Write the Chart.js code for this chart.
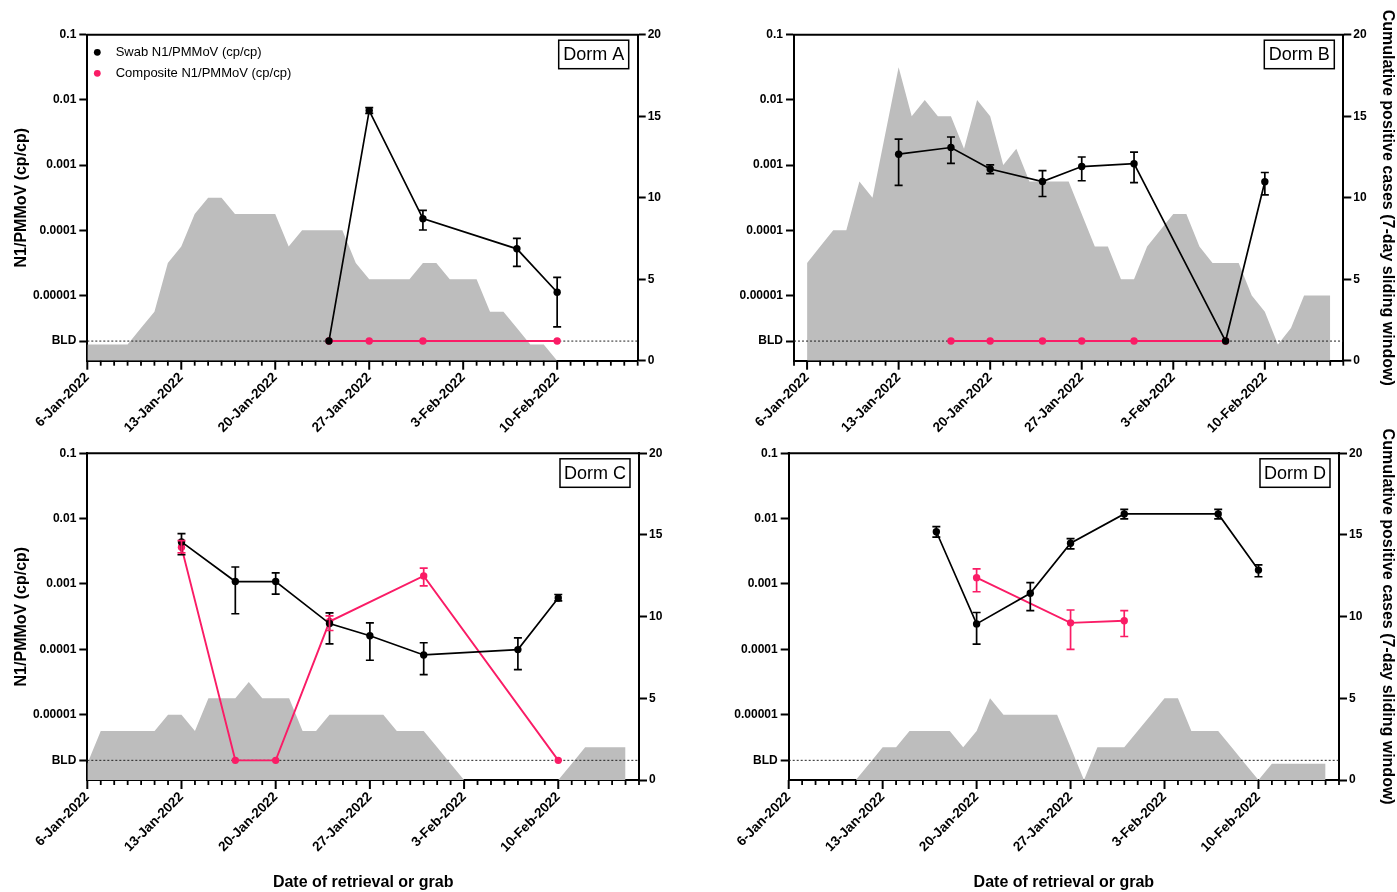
<!DOCTYPE html>
<html>
<head>
<meta charset="utf-8">
<script src="https://cdn.jsdelivr.net/npm/chart.js@4.4.1/dist/chart.umd.min.js"></script>
<style>
  body { margin: 0; background: #fff; width: 1397px; height: 892px; overflow: hidden; position: relative; }
  .panel { position: absolute; }
</style>
</head>
<body>
<div class="panel" style="left:0;top:0"><canvas id="dormA" width="698" height="440"></canvas></div>
<div class="panel" style="left:700px;top:0"><canvas id="dormB" width="697" height="440"></canvas></div>
<div class="panel" style="left:0;top:410px"><canvas id="dormC" width="698" height="482"></canvas></div>
<div class="panel" style="left:700px;top:410px"><canvas id="dormD" width="697" height="482"></canvas></div>
<script>
// below detection limit, plotted on its own row of the log axis
const BLD = 0.000002;

const leftTicks = [BLD, 0.00001, 0.0001, 0.001, 0.01, 0.1];
const leftTickLabels = ["BLD", "0.00001", "0.0001", "0.001", "0.01", "0.1"];
const months = ["Jan", "Feb", "Mar", "Apr", "May", "Jun", "Jul", "Aug", "Sep", "Oct", "Nov", "Dec"];

// cumulative positive cases, one value per day from the start date
const casesA_start = "2022-01-06";
const casesA = [1,1,1,1,2,3,6,7,9,10,10,9,9,9,9,7,8,8,8,8,6,5,5,5,5,6,6,5,5,5,3,3,2,1,1,0];
const casesB_start = "2022-01-06";
const casesB = [6,7,8,8,11,10,14,18,15,16,15,15,13,16,15,12,13,11,11,11,11,9,7,7,5,5,7,8,9,9,7,6,6,6,4,3,1,2,4,4,4];
const casesC_start = "2022-01-06";
const casesC = [1,3,3,3,3,3,4,4,3,5,5,5,6,5,5,5,3,3,4,4,4,4,4,3,3,3,2,1,0,0,0,0,0,0,0,0,1,2,2,2,2];
const casesD_start = "2022-01-11";
const casesD = [0,1,2,2,3,3,3,3,2,3,5,4,4,4,4,4,2,0,2,2,2,3,4,5,5,3,3,3,2,1,0,1,1,1,1,1];

// Dorm A
const swabA_dates = ["2022-01-24", "2022-01-27", "2022-01-31", "2022-02-07", "2022-02-10"];
const swabA = [BLD, 0.00685, 0.000151, 0.000052, 0.0000112];
const swabA_hi = [null, 0.0076, 0.000202, 0.000075, 0.000019];
const swabA_lo = [null, 0.0062, 0.000101, 0.000028, 0.0000033];
const compA_dates = ["2022-01-24", "2022-01-27", "2022-01-31", "2022-02-10"];
const compA = [BLD, BLD, BLD, BLD];

// Dorm B
const swabB_dates = ["2022-01-13", "2022-01-17", "2022-01-20", "2022-01-24", "2022-01-27", "2022-01-31", "2022-02-07", "2022-02-10"];
const swabB = [0.00147, 0.00186, 0.00087, 0.00056, 0.00095, 0.00105, BLD, 0.000555];
const swabB_hi = [0.0025, 0.0027, 0.00101, 0.00082, 0.00133, 0.00158, null, 0.00077];
const swabB_lo = [0.00049, 0.00106, 0.00074, 0.00033, 0.000575, 0.00054, null, 0.00035];
const compB_dates = ["2022-01-17", "2022-01-20", "2022-01-24", "2022-01-27", "2022-01-31", "2022-02-07"];
const compB = [BLD, BLD, BLD, BLD, BLD, BLD];

// Dorm C
const swabC_dates = ["2022-01-13", "2022-01-17", "2022-01-20", "2022-01-24", "2022-01-27", "2022-01-31", "2022-02-07", "2022-02-10"];
const swabC = [0.0044, 0.00109, 0.00109, 0.000248, 0.000161, 0.000082, 0.000099, 0.00061];
const swabC_hi = [0.0059, 0.00182, 0.00148, 0.00036, 0.000254, 0.000126, 0.00015, 0.00069];
const swabC_lo = [0.0028, 0.00035, 0.0007, 0.000121, 0.000068, 0.000041, 0.000049, 0.00055];
const compC_dates = ["2022-01-13", "2022-01-17", "2022-01-20", "2022-01-24", "2022-01-31", "2022-02-10"];
const compC = [0.00365, BLD, BLD, 0.000266, 0.00133, BLD];
const compC_hi = [0.0046, null, null, 0.000325, 0.00175, null];
const compC_lo = [0.003, null, null, 0.000194, 0.000935, null];

// Dorm D
const swabD_dates = ["2022-01-17", "2022-01-20", "2022-01-24", "2022-01-27", "2022-01-31", "2022-02-07", "2022-02-10"];
const swabD = [0.0063, 0.000245, 0.00072, 0.0042, 0.0118, 0.0118, 0.00163];
const swabD_hi = [0.00755, 0.000366, 0.00105, 0.00494, 0.0139, 0.0139, 0.00196];
const swabD_lo = [0.0052, 0.00012, 0.00039, 0.00344, 0.0099, 0.0099, 0.00129];
const compD_dates = ["2022-01-20", "2022-01-27", "2022-01-31"];
const compD = [0.00125, 0.000254, 0.000273];
const compD_hi = [0.0017, 0.0004, 0.00039];
const compD_lo = [0.00076, 0.0001, 0.000157];

const BLACK = "#000000";
const PINK = "#fa1c66";
const GREY = "#bdbdbd";
const FONT = "'Liberation Sans', Arial, Helvetica, sans-serif";

Chart.defaults.font.family = FONT;
Chart.defaults.color = "#000";

const day0 = Date.UTC(2022, 0, 6);
function dayOf(s) {
  const [y, m, d] = s.split("-").map(Number);
  return Math.round((Date.UTC(y, m - 1, d) - day0) / 86400000);
}
function dayLabel(n) {
  const d = new Date(day0 + n * 86400000);
  return d.getUTCDate() + "-" + months[d.getUTCMonth()] + "-" + d.getUTCFullYear();
}
function pts(dates, vals) {
  return dates.map((d, i) => ({ x: dayOf(d), y: vals[i] }));
}
function series(start, vals) {
  const s = dayOf(start);
  return vals.map((v, i) => ({ x: s + i, y: v }));
}

// error bars, frame, day ticks, dorm label, legend
const decor = {
  id: "decor",
  afterDatasetsDraw(chart) {
    const ctx = chart.ctx;
    const xs = chart.scales.x, ys = chart.scales.y;
    chart.data.datasets.forEach((ds) => {
      if (!ds.errHi) return;
      ctx.save();
      ctx.strokeStyle = ds.borderColor;
      ctx.lineWidth = 1.7;
      ds.data.forEach((p, i) => {
        if (ds.errHi[i] == null) return;
        const x = xs.getPixelForValue(p.x);
        const yh = ys.getPixelForValue(ds.errHi[i]);
        const yl = ys.getPixelForValue(ds.errLo[i]);
        ctx.beginPath();
        ctx.moveTo(x, yh); ctx.lineTo(x, yl);
        ctx.moveTo(x - 4, yh); ctx.lineTo(x + 4, yh);
        ctx.moveTo(x - 4, yl); ctx.lineTo(x + 4, yl);
        ctx.stroke();
      });
      ctx.restore();
    });
  },
  afterDraw(chart, args, opts) {
    const ctx = chart.ctx;
    const a = chart.chartArea;
    const xs = chart.scales.x;
    ctx.save();
    ctx.strokeStyle = "#000";
    // top frame line
    ctx.lineWidth = 2;
    ctx.beginPath();
    ctx.moveTo(a.left - 1, a.top); ctx.lineTo(a.right + 1, a.top);
    ctx.stroke();
    // daily ticks, longer at each week
    for (let v = Math.ceil(xs.min); v <= xs.max; v++) {
      const x = xs.getPixelForValue(v);
      const len = v % 7 === 0 ? 9 : 5;
      ctx.lineWidth = v % 7 === 0 ? 2 : 1.8;
      ctx.beginPath();
      ctx.moveTo(x, a.bottom); ctx.lineTo(x, a.bottom + len);
      ctx.stroke();
    }
    // dorm label box
    const bw = 70, bh = 28.5;
    const bx = a.right - 9 - bw, by = a.top + 5.5;
    ctx.lineWidth = 1.5;
    ctx.strokeRect(bx, by, bw, bh);
    ctx.fillStyle = "#000";
    ctx.font = "18px " + FONT;
    ctx.textAlign = "center";
    ctx.textBaseline = "middle";
    ctx.fillText(opts.name, bx + bw / 2, by + bh / 2 + 1);
    // legend
    if (opts.legend) {
      ctx.font = "13px " + FONT;
      ctx.textAlign = "left";
      opts.legend.forEach((item, i) => {
        const y = a.top + 17.6 + i * 21;
        ctx.fillStyle = item.color;
        ctx.beginPath();
        ctx.arc(a.left + 10, y, 3.4, 0, Math.PI * 2);
        ctx.fill();
        ctx.fillStyle = "#000";
        ctx.fillText(item.text, a.left + 28.4, y);
      });
    }
    ctx.restore();
  }
};

function makePanel(id, p) {
  const datasets = [
    {
      label: "Swab N1/PMMoV (cp/cp)",
      data: pts(p.swabDates, p.swab),
      errHi: p.swabHi, errLo: p.swabLo,
      borderColor: BLACK, backgroundColor: BLACK,
      borderWidth: 1.7, pointRadius: 3.7, pointBorderWidth: 0,
      yAxisID: "y", order: 0
    },
    {
      label: "Composite N1/PMMoV (cp/cp)",
      data: pts(p.compDates, p.comp),
      errHi: p.compHi, errLo: p.compLo,
      borderColor: PINK, backgroundColor: PINK,
      borderWidth: 1.9, pointRadius: 3.7, pointBorderWidth: 0,
      yAxisID: "y", order: 1
    },
    {
      label: "BLD",
      data: [{ x: p.xMin, y: BLD }, { x: p.xMax, y: BLD }],
      borderColor: "#222", borderWidth: 1, borderDash: [2, 2],
      pointRadius: 0, yAxisID: "y", order: 2
    },
    {
      label: "Cumulative positive cases",
      data: series(p.casesStart, p.cases),
      borderWidth: 0, borderColor: GREY, backgroundColor: GREY,
      fill: "origin", pointRadius: 0, tension: 0,
      yAxisID: "y2", order: 3
    }
  ];

  return new Chart(document.getElementById(id), {
    type: "line",
    data: { datasets: datasets },
    options: {
      responsive: false,
      animation: false,
      events: [],
      layout: { padding: { top: p.padTop, left: 0, right: 0, bottom: 0 } },
      plugins: {
        legend: { display: false },
        tooltip: { enabled: false },
        decor: { name: p.name, legend: p.legend }
      },
      scales: {
        x: {
          type: "linear",
          min: p.xMin,
          max: p.xMax,
          afterBuildTicks: (s) => {
            s.ticks = [];
            for (let v = p.xMin; v <= p.xMax; v++) s.ticks.push({ value: v });
          },
          afterFit: (s) => { s.height = p.bottomH; },
          ticks: {
            autoSkip: false,
            minRotation: 45,
            maxRotation: 45,
            padding: 9,
            font: { size: 13.5, weight: "bold" },
            callback: (v) => (v % 7 === 0 && v >= 0 ? dayLabel(v) : "")
          },
          grid: { display: true, drawOnChartArea: false, drawTicks: false },
          border: { display: true, color: "#000", width: 2 },
          title: {
            display: !!p.bottomTitle,
            text: "Date of retrieval or grab",
            font: { size: 16, weight: "bold" },
            padding: { top: 0, bottom: 0 }
          }
        },
        y: {
          type: "logarithmic",
          position: "left",
          min: 0.000001,
          max: 0.1,
          afterBuildTicks: (s) => { s.ticks = leftTicks.map((v) => ({ value: v })); },
          afterFit: (s) => { s.width = p.leftW; },
          ticks: {
            autoSkip: false,
            padding: 3,
            font: { size: 12, weight: "bold" },
            callback: (v, i) => leftTickLabels[i]
          },
          grid: { drawOnChartArea: false, tickLength: 8, tickWidth: 2, tickColor: "#000" },
          border: { color: "#000", width: 2 },
          title: {
            display: !!p.leftTitle,
            text: "N1/PMMoV (cp/cp)",
            font: { size: 16, weight: "bold" },
            padding: { top: 12, bottom: 0 }
          }
        },
        y2: {
          type: "linear",
          position: "right",
          min: 0,
          max: 20,
          afterFit: (s) => { s.width = p.rightW; },
          ticks: {
            stepSize: 5,
            padding: 2,
            font: { size: 12, weight: "bold" }
          },
          grid: { drawOnChartArea: false, tickLength: 8, tickWidth: 2, tickColor: "#000" },
          border: { color: "#000", width: 2 },
          title: {
            display: !!p.rightTitle,
            text: "Cumulative positive cases (7-day sliding window)",
            font: { size: 16, weight: "bold" },
            padding: { top: 0, bottom: 0 }
          }
        }
      }
    },
    plugins: [decor]
  });
}

makePanel("dormA", {
  name: "Dorm A", xMin: 0, xMax: 41,
  leftW: 87.3, rightW: 60.3, padTop: 34.7, bottomH: 79.3,
  leftTitle: true, rightTitle: false, bottomTitle: false,
  legend: [
    { color: BLACK, text: "Swab N1/PMMoV (cp/cp)" },
    { color: PINK, text: "Composite N1/PMMoV (cp/cp)" }
  ],
  casesStart: casesA_start, cases: casesA,
  swabDates: swabA_dates, swab: swabA, swabHi: swabA_hi, swabLo: swabA_lo,
  compDates: compA_dates, comp: compA, compHi: null, compLo: null
});

makePanel("dormB", {
  name: "Dorm B", xMin: -1, xMax: 41,
  leftW: 94, rightW: 53.7, padTop: 34.7, bottomH: 79.3,
  leftTitle: false, rightTitle: true, bottomTitle: false,
  casesStart: casesB_start, cases: casesB,
  swabDates: swabB_dates, swab: swabB, swabHi: swabB_hi, swabLo: swabB_lo,
  compDates: compB_dates, comp: compB, compHi: null, compLo: null
});

makePanel("dormC", {
  name: "Dorm C", xMin: 0, xMax: 41,
  leftW: 87.3, rightW: 59, padTop: 43.3, bottomH: 112,
  leftTitle: true, rightTitle: false, bottomTitle: true,
  casesStart: casesC_start, cases: casesC,
  swabDates: swabC_dates, swab: swabC, swabHi: swabC_hi, swabLo: swabC_lo,
  compDates: compC_dates, comp: compC, compHi: compC_hi, compLo: compC_lo
});

makePanel("dormD", {
  name: "Dorm D", xMin: 0, xMax: 41,
  leftW: 88.7, rightW: 58, padTop: 43.3, bottomH: 112,
  leftTitle: false, rightTitle: true, bottomTitle: true,
  casesStart: casesD_start, cases: casesD,
  swabDates: swabD_dates, swab: swabD, swabHi: swabD_hi, swabLo: swabD_lo,
  compDates: compD_dates, comp: compD, compHi: compD_hi, compLo: compD_lo
});
</script>
</body>
</html>
